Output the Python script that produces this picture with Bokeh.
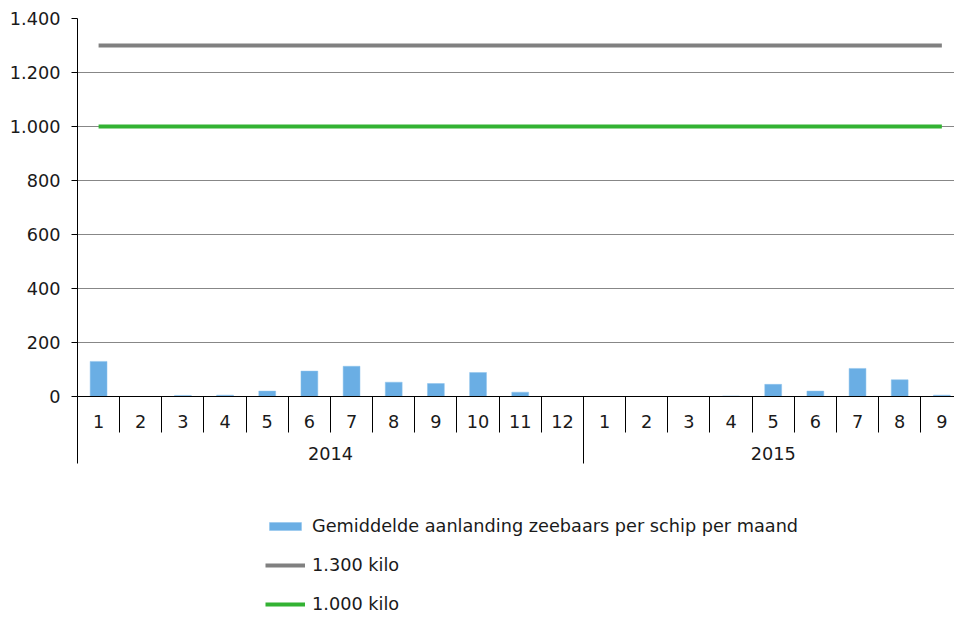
from bokeh.plotting import figure
from bokeh.models import (Range1d, LinearAxis, FixedTicker, Legend, LegendItem)
from bokeh.layouts import column
from bokeh.embed import file_html
from bokeh.resources import INLINE

# ---- data ----
years = ["2014"] * 12 + ["2015"] * 9
months = ["1", "2", "3", "4", "5", "6", "7", "8", "9", "10", "11", "12",
          "1", "2", "3", "4", "5", "6", "7", "8", "9"]
landing = [130, 0, 4, 5, 20, 94, 112, 53, 48, 89, 16, 0,
           0, 0, 0, 2, 45, 20, 104, 62, 5]
limit_1300 = [1300] * 21
limit_1000 = [1000] * 21
y_ticks = [0, 200, 400, 600, 800, 1000, 1200, 1400]
y_tick_labels = ["0", "200", "400", "600", "800", "1.000", "1.200", "1.400"]
year_labels = ["2014", "2015"]
series_names = ["Gemiddelde aanlanding zeebaars per schip per maand",
                "1.300 kilo", "1.000 kilo"]

FONT = "DejaVu Sans"
FS = "17.7px"
TXT = "#1a1a1a"
BAR_FILL = "#6aaee4"
BAR_LINE = "#8cc2ec"
GRAY = "#808080"
GREEN = "#33b233"

idx = list(range(len(months)))
boundaries = [i - 0.5 for i in range(len(months) + 1)]

year_groups = []
for y in year_labels:
    ii = [i for i, yy in enumerate(years) if yy == y]
    year_groups.append((min(ii) - 0.5, max(ii) + 0.5))
year_centers = [(a + b) / 2 for a, b in year_groups]
year_bounds = sorted(set([a for a, b in year_groups] + [b for a, b in year_groups]))

# ---------------- main chart ----------------
p = figure(width=954, height=466, output_backend="svg", toolbar_location=None,
           x_range=Range1d(-0.5, 20.3), y_range=Range1d(0, 1400),
           x_axis_location=None, y_axis_location=None,
           min_border_left=77, min_border_top=18, min_border_right=0,
           min_border_bottom=70)
p.outline_line_color = None
p.background_fill_color = "white"
p.border_fill_color = "white"

yax = LinearAxis(ticker=FixedTicker(ticks=y_ticks),
                 major_label_overrides={t: l for t, l in zip(y_ticks, y_tick_labels)})
yax.axis_line_color = "black"
yax.major_tick_out = 6
yax.major_tick_in = 0
yax.minor_tick_line_color = None
yax.minor_tick_out = 0
yax.minor_tick_in = 0
yax.major_label_standoff = 11
yax.major_label_text_font = FONT
yax.major_label_text_font_size = FS
yax.major_label_text_color = TXT
p.add_layout(yax, "left")

p.ygrid.ticker = FixedTicker(ticks=y_ticks)
p.ygrid.grid_line_color = "#878787"
p.ygrid.grid_line_width = 1
p.xgrid.grid_line_color = None

xa = LinearAxis(ticker=FixedTicker(ticks=idx, minor_ticks=boundaries),
                major_label_overrides={i: m for i, m in zip(idx, months)})
xa.axis_line_color = "black"
xa.major_tick_out = 0
xa.major_tick_in = 0
xa.major_tick_line_color = None
xa.minor_tick_out = 36
xa.minor_tick_in = 0
xa.minor_tick_line_color = "black"
xa.major_label_standoff = -18
xa.major_label_text_font = FONT
xa.major_label_text_font_size = FS
xa.major_label_text_color = TXT
p.add_layout(xa, "below")

xb = LinearAxis(ticker=FixedTicker(ticks=year_centers, minor_ticks=year_bounds),
                major_label_overrides={c: l for c, l in zip(year_centers, year_labels)})
xb.axis_line_color = None
xb.major_tick_out = 0
xb.major_tick_in = 0
xb.major_tick_line_color = None
xb.minor_tick_out = 33
xb.minor_tick_in = 2
xb.minor_tick_line_color = "black"
xb.major_label_standoff = -17
xb.major_label_text_font = FONT
xb.major_label_text_font_size = FS
xb.major_label_text_color = TXT
p.add_layout(xb, "below")

p.vbar(x=idx, top=landing, bottom=0, width=0.4,
       fill_color=BAR_FILL, line_color=BAR_LINE, line_width=0.5)
p.line(x=idx, y=limit_1300, line_color=GRAY, line_width=4)
p.line(x=idx, y=limit_1000, line_color=GREEN, line_width=4)

# ---------------- legend strip ----------------
# same series drawn with ranges that keep them out of view; only the legend shows
lg = figure(width=954, height=150, output_backend="svg", toolbar_location=None,
            x_range=Range1d(-30, -29), y_range=Range1d(-30, -29),
            x_axis_location=None, y_axis_location=None,
            min_border_left=0, min_border_top=0, min_border_right=0,
            min_border_bottom=0)
lg.outline_line_color = None
lg.grid.grid_line_color = None
lg.border_fill_color = "white"
lg_bar = lg.vbar(x=idx, top=landing, bottom=0, width=0.4,
                 fill_color=BAR_FILL, line_color=BAR_LINE, line_width=0.5)
lg_l1 = lg.line(x=idx, y=limit_1300, line_color=GRAY, line_width=4)
lg_l2 = lg.line(x=idx, y=limit_1000, line_color=GREEN, line_width=4)

legend = Legend(items=[LegendItem(label=series_names[0], renderers=[lg_bar]),
                       LegendItem(label=series_names[1], renderers=[lg_l1]),
                       LegendItem(label=series_names[2], renderers=[lg_l2])],
                location=(188, 2), orientation="vertical")
legend.glyph_width = 40
legend.glyph_height = 10
legend.label_height = 20
legend.spacing = 19
legend.padding = 0
legend.margin = 0
legend.label_standoff = 7
legend.label_text_font = FONT
legend.label_text_font_size = FS
legend.label_text_color = TXT
legend.border_line_color = None
legend.background_fill_alpha = 0
lg.add_layout(legend, "center")

root = column(p, lg, spacing=0)
open("out.html", "w").write(file_html(root, INLINE))
